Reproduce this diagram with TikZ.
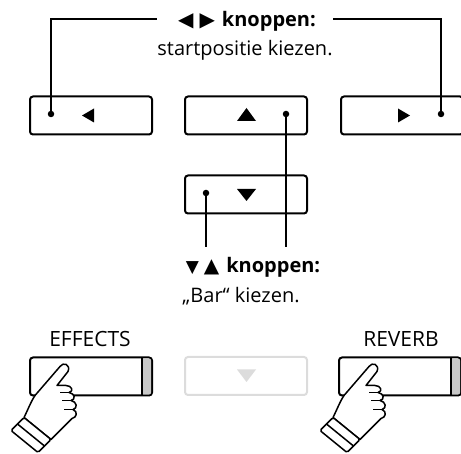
\documentclass[tikz,border=0pt]{standalone}
\usepackage{fontspec}
\setmainfont{Open Sans}
\newfontfamily\symfont{DejaVu Sans}
\usetikzlibrary{positioning,calc}

\definecolor{keygray}{HTML}{C8C8C8}
\definecolor{keyline}{HTML}{DCDCDC}

\tikzset{
  hand/.pic={
    % finger, folded fingers and back of the hand
    \draw[fill=white,line width=1.5pt,line join=round]
      (-5,61) .. controls (-1,53) and (2,45) .. (6,39) -- (31,10)
      .. controls (34,5) and (42,8) .. (39,15) -- (28,29) -- (37,29)
      .. controls (43,29) and (45,35) .. (40,36)
      .. controls (46,37) and (47,43) .. (42,44)
      .. controls (48,45) and (49,52) .. (44,53)
      .. controls (49,55) and (48,61) .. (43,62) -- (22,83) -- cycle;
    \draw[line width=1.5pt] (31,36) -- (40,36) (33,44) -- (42,44) (35,53) -- (44,53);
    % cuff
    \draw[fill=white,line width=1.5pt,rounded corners=1.5pt]
      (-5,61) -- (22,83) -- (9,96) -- (-18,74) -- cycle;
    \draw[line width=1.5pt] (-11.5,67.5) -- (15.5,89.5);
  }
}

\newcommand\symbig[1]{{\symfont\fontsize{20}{20}\selectfont #1}}
\newcommand\symsmall[1]{{\symfont\fontsize{17}{17}\selectfont #1}}

\begin{document}
\begin{tikzpicture}[x=1pt,y=-1pt,
  key/.style={draw,fill=white,line width=2pt,rounded corners=3pt,
    minimum width=122pt,minimum height=38pt,inner sep=0pt},
  keyoff/.style={key,draw=keyline},
  dot/.style={circle,fill=black,inner sep=0pt,minimum size=6.5pt},
  lead/.style={line width=1.3pt},
  label/.style={inner sep=0pt,font=\fontsize{20}{22}\selectfont},
  keyname/.style={inner sep=0pt,font=\fontsize{21}{23}\selectfont}]
    \useasboundingbox (0,0) rectangle (461,454);

    % cursor keys
    \node[key] (left) at (91,115.5) {};
    \node[key] (up) at (246,115.5) {};
    \node[key] (right) at (402,115.5) {};
    \node[key] (down) at (246,194.5) {};
    \fill ($(left)+(-9,0)$) -- ++(12,-7) -- ++(0,14) -- cycle;
    \fill ($(up)+(0.5,-7.5)$) -- ++(9.5,13) -- ++(-19,0) -- cycle;
    \fill ($(right)+(8,0)$) -- ++(-12,-7) -- ++(0,14) -- cycle;
    \fill ($(down)+(0.5,6.5)$) -- ++(9.5,-12) -- ++(-19,0) -- cycle;

    \node[dot] (dotL) at ($(left)+(-40,-1.5)$) {};
    \node[dot] (dotU) at ($(up)+(40,-1.5)$) {};
    \node[dot] (dotR) at ($(right)+(39,-1.5)$) {};
    \node[dot] (dotD) at ($(down)+(-40,-1.5)$) {};

    % labels
    \node[label,font=\fontsize{20}{22}\selectfont\bfseries] (lr) at (247,21)
        {\symbig{◀}\kern6pt\symbig{▶}\kern7pt knoppen:};
    \node[label] (lrtext) at (245,50) {startpositie kiezen.};
    \node[label,font=\fontsize{20}{22}\selectfont\bfseries] (ud) at (253,267)
        {\symsmall{▼}\kern5pt\symbig{▲}\kern7pt knoppen:};
    \node[label] (udtext) at (241,296) {„Bar“ kiezen.};

    \coordinate (lrL) at (157,19);
    \coordinate (lrR) at (333,19);
    \coordinate (udL) at (206,247);
    \coordinate (udR) at (286,247);
    \draw[lead] (dotL) |- (lrL);
    \draw[lead] (dotR) |- (lrR);
    \draw[lead] (dotD) -- (udL);
    \draw[lead] (dotU) -- (udR);

    % panel buttons
    \node[keyname] (fxname) at (90,339) {EFFECTS};
    \node[keyname] (revname) at (401,339) {REVERB};
    \node[key] (fx) at (91,376.5) {};
    \node[key] (rev) at (400,376.5) {};
    \node[keyoff] (mid) at (246,376) {};
    \fill[keyline] ($(mid)+(0.5,6)$) -- ++(9.5,-12.5) -- ++(-19,0) -- cycle;
    \foreach \k in {fx,rev}{
        \fill[keygray,rounded corners=2pt] ($(\k.north east)+(-11,2)$) rectangle ($(\k.south east)+(-2,-2)$);
        \draw[line width=2pt] ($(\k.north east)+(-11,1)$) -- ($(\k.south east)+(-11,-1)$);
    }
    \pic at (fx.north west) {hand};
    \pic at (rev.north west) {hand};
\end{tikzpicture}
\end{document}
